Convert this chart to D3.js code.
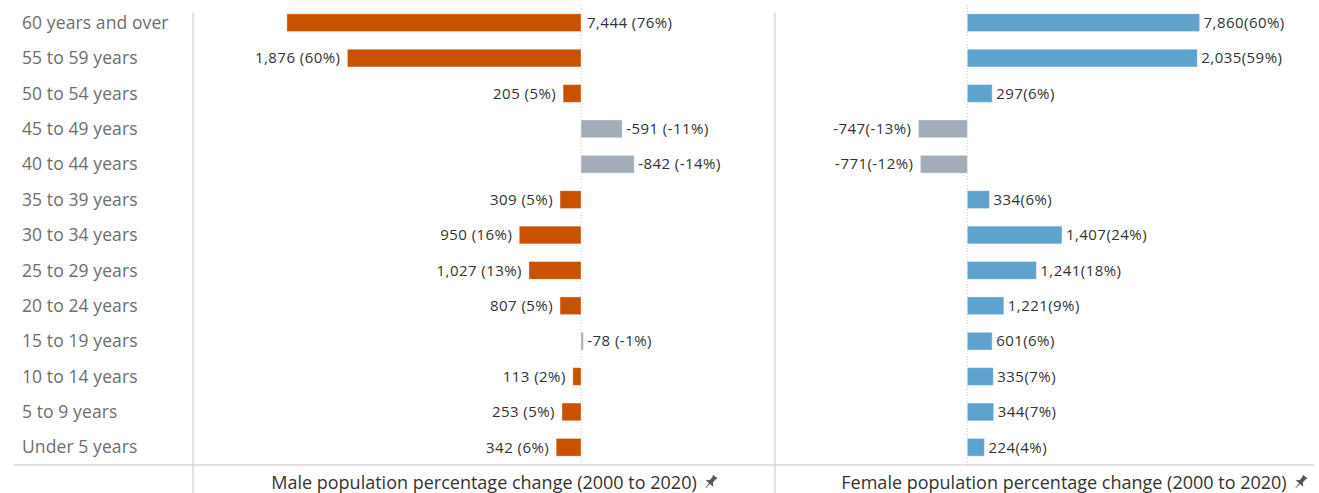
<!DOCTYPE html>
<html lang="en">
<head>
    <meta charset="UTF-8">
    <title>Population change by age group</title>
    <script src="https://d3js.org/d3.v7.min.js"></script>
    <style>
        body {
            margin: 0;
            background: #fff;
            font-family: "Open Sans", Lato, sans-serif;
        }
        .cat { font-size: 17.5px; fill: #6e6e6e; letter-spacing: 0.1px; }
        .val { font-size: 15px; fill: #333; letter-spacing: 0.45px; }
        .title { font-size: 18px; fill: #333; }
    </style>
</head>
<body>
    <script>
        // age groups, top to bottom
        const ageGroups = ["60 years and over", "55 to 59 years", "50 to 54 years", "45 to 49 years",
            "40 to 44 years", "35 to 39 years", "30 to 34 years", "25 to 29 years", "20 to 24 years",
            "15 to 19 years", "10 to 14 years", "5 to 9 years", "Under 5 years"];

        // male: absolute change and percentage change
        const maleChange = [7444, 1876, 205, -591, -842, 309, 950, 1027, 807, -78, 113, 253, 342];
        const malePct = [75.8, 60.2, 4.6, -10.6, -13.7, 5.4, 15.9, 13.4, 5.4, -0.6, 2.1, 4.9, 6.4];

        // female: absolute change and percentage change
        const femaleChange = [7860, 2035, 297, -747, -771, 334, 1407, 1241, 1221, 601, 335, 344, 224];
        const femalePct = [59.9, 59.3, 6.4, -12.6, -12.1, 5.7, 24.4, 17.8, 9.4, 6.4, 6.7, 6.8, 4.4];

        const width = 1319;
        const height = 493;

        const svg = d3.select("body")
            .append("svg")
            .attr("width", width)
            .attr("height", height);

        const y = d3.scaleBand()
            .domain(ageGroups)
            .range([5, 465])
            .paddingInner(0.5)
            .paddingOuter(0.25);

        // male axis runs right to left (increase goes left)
        const xMale = d3.scaleLinear().domain([100, -50]).range([193, 775]);
        const xFemale = d3.scaleLinear().domain([-49.6, 89.4]).range([775, 1314]);

        const fmt = d3.formatLocale({ decimal: ".", thousands: ",", grouping: [3], currency: ["", ""], minus: "-" }).format(",");
        const colPos = { male: "#c85200", female: "#5fa2ce" };
        const colNeg = "#a3acb9";

        // grid lines
        svg.append("line").attr("x1", 14).attr("x2", 1314).attr("y1", 465).attr("y2", 465)
            .attr("stroke", "#d9d9d9").attr("stroke-width", 1.5);
        [193, 775].forEach(x => {
            svg.append("line").attr("x1", x).attr("x2", x).attr("y1", 13).attr("y2", 493)
                .attr("stroke", "#d9d9d9").attr("stroke-width", 1.5);
        });

        // category labels
        svg.selectAll(".cat")
            .data(ageGroups)
            .enter()
            .append("text")
            .attr("class", "cat")
            .attr("x", 22)
            .attr("y", d => y(d) + y.bandwidth() / 2)
            .attr("dy", "0.35em")
            .text(d => d);

        function panel(x, pct, change, color, sep, maleSide) {
            const rows = ageGroups.map((g, i) => ({ g, p: pct[i], c: change[i] }));
            const x0 = x(0);

            svg.append("line")
                .attr("x1", x0).attr("x2", x0).attr("y1", 5).attr("y2", 465)
                .attr("stroke", "#ccc").attr("stroke-dasharray", "1,2");

            svg.append("g").selectAll("rect")
                .data(rows)
                .enter()
                .append("rect")
                .attr("x", d => Math.min(x(d.p), x0))
                .attr("y", d => y(d.g))
                .attr("width", d => Math.max(Math.abs(x(d.p) - x0), 1.5))
                .attr("height", y.bandwidth())
                .attr("fill", d => d.c < 0 ? colNeg : color)
                .attr("stroke", "#fff")
                .attr("stroke-opacity", 0.35)
                .attr("stroke-width", 1);

            svg.append("g").selectAll("text")
                .data(rows)
                .enter()
                .append("text")
                .attr("class", "val")
                .attr("y", d => y(d.g) + y.bandwidth() / 2)
                .attr("dy", "0.35em")
                .each(function(d, i) {
                    const t = d3.select(this);
                    const bx = x(d.p);
                    if (maleSide && i === 0) {
                        // top male label sits on the other side of the axis
                        t.attr("x", x0 + 6).attr("text-anchor", "start");
                    } else if (bx >= x0) {
                        t.attr("x", Math.max(bx, x0 + 1.5) + 4).attr("text-anchor", "start");
                    } else {
                        t.attr("x", bx - 7).attr("text-anchor", "end");
                    }
                })
                .text(d => fmt(d.c) + sep + "(" + Math.round(d.p) + "%)");
        }

        panel(xMale, malePct, maleChange, colPos.male, " ", true);
        panel(xFemale, femalePct, femaleChange, colPos.female, "", false);

        // axis titles with pin glyph
        function axisTitle(cx, label) {
            const t = svg.append("text")
                .attr("class", "title")
                .attr("x", cx)
                .attr("y", 489)
                .attr("text-anchor", "middle")
                .text(label);
            const w = t.node().getComputedTextLength();
            const px = cx + w / 2 + 14;
            svg.append("path")
                .attr("transform", `translate(${px},482) rotate(40)`)
                .attr("d", "M-3,-7 L3,-7 L2,-5 L2,-1 L5,2 L-5,2 L-2,-1 L-2,-5 Z M-0.6,2 L0.6,2 L0.3,8 L-0.3,8 Z")
                .attr("fill", "#555");
        }
        axisTitle(484, "Male population percentage change (2000 to 2020)");
        axisTitle(1064, "Female population percentage change (2000 to 2020)");
    </script>
</body>
</html>
